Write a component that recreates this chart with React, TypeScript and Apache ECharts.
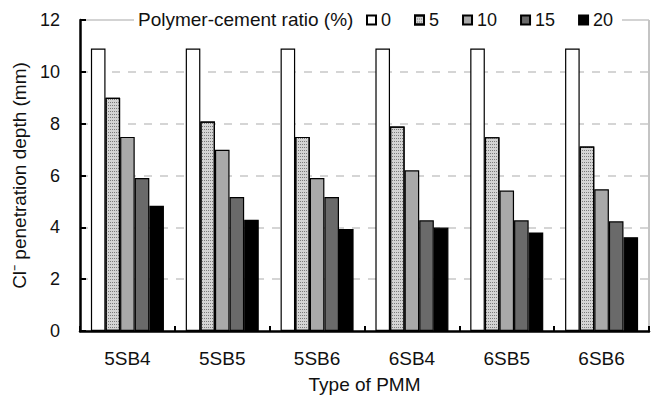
import React, { useEffect, useRef } from "react";
import * as echarts from "echarts";

const categories = ["5SB4", "5SB5", "5SB6", "6SB4", "6SB5", "6SB6"];
const seriesNames = ["0", "5", "10", "15", "20"];
const ratio0 = [10.9, 10.9, 10.9, 10.9, 10.9, 10.9];
const ratio5 = [9.0, 8.08, 7.49, 7.89, 7.48, 7.12];
const ratio10 = [7.49, 6.99, 5.9, 6.2, 5.42, 5.47];
const ratio15 = [5.9, 5.17, 5.17, 4.27, 4.27, 4.23];
const ratio20 = [4.83, 4.29, 3.94, 3.99, 3.8, 3.62];
const yTicks = [0, 2, 4, 6, 8, 10, 12];

const FONT = "Liberation Sans, Arial, sans-serif";

export default function App() {
  const ref = useRef<HTMLDivElement>(null);
  useEffect(() => {
    if (!ref.current) return;
    const chart = echarts.init(ref.current, undefined, { renderer: "svg" });
    const values = [ratio0, ratio5, ratio10, ratio15, ratio20];
    const colors = ["#ffffff", "#d4d4d4", "#a9a9a9", "#6a6a6a", "#000000"];
    const series = seriesNames.map((name, i) => ({
      name,
      type: "bar",
      data: values[i],
      barGap: "0%",
      barCategoryGap: "23%",
      itemStyle: {
        color: colors[i],
        borderColor: "#000",
        borderWidth: 1.2,
        ...(i === 1
          ? {
              decal: {
                symbol: "rect",
                symbolSize: 1,
                dashArrayX: [1, 1],
                dashArrayY: [1, 2],
                color: "#7a7a7a",
              },
            }
          : {}),
      },
    }));
    chart.setOption({
      animation: false,
      backgroundColor: "#fff",
      textStyle: { fontFamily: FONT },
      grid: { left: 80, right: 9, top: 20, bottom: 66, containLabel: false },
      legend: {
        data: seriesNames,
        left: 366,
        top: 11,
        icon: "rect",
        itemWidth: 9,
        itemHeight: 9,
        itemGap: 23,
        padding: 0,
        textStyle: { fontSize: 18, color: "#111", fontFamily: FONT },
      },
      graphic: [
        {
          type: "text",
          left: 138,
          top: 10,
          style: {
            text: "Polymer-cement ratio (%)",
            fontSize: 19,
            fontFamily: FONT,
            fill: "#111",
          },
        },
        {
          type: "line",
          shape: { x1: 80, y1: 20, x2: 134, y2: 20 },
          style: { stroke: "#c4c4c4", lineWidth: 1.5 },
        },
        {
          type: "line",
          shape: { x1: 622, y1: 20, x2: 649, y2: 20 },
          style: { stroke: "#c4c4c4", lineWidth: 1.5 },
        },
        {
          type: "line",
          shape: { x1: 649, y1: 20, x2: 649, y2: 333 },
          style: { stroke: "#c4c4c4", lineWidth: 2 },
        },
      ],
      xAxis: {
        type: "category",
        data: categories,
        name: "Type of PMM",
        nameLocation: "middle",
        nameGap: 44,
        nameTextStyle: { fontSize: 19, color: "#111", fontFamily: FONT },
        axisLine: { lineStyle: { color: "#000", width: 2.5 } },
        axisTick: { show: true, inside: true, length: 5, lineStyle: { color: "#000", width: 2 } },
        axisLabel: { fontSize: 19, color: "#111", margin: 18, fontFamily: FONT },
      },
      yAxis: {
        type: "value",
        min: yTicks[0],
        max: yTicks[yTicks.length - 1],
        interval: 2,
        name: "Cl\u207B penetration depth (mm)",
        nameLocation: "middle",
        nameRotate: 90,
        nameGap: 47,
        nameTextStyle: { fontSize: 19, color: "#111", fontFamily: FONT },
        axisLine: { show: true, lineStyle: { color: "#000", width: 2.5 } },
        axisTick: { show: true, inside: true, length: 6, lineStyle: { color: "#000", width: 2 } },
        axisLabel: { fontSize: 18, color: "#111", margin: 20, fontFamily: FONT },
        splitLine: {
          show: true,
          showMinLine: false,
          showMaxLine: false,
          lineStyle: { color: "#c8c8c8", width: 1.5, type: [8, 8] },
        },
      },
      series,
    });
    return () => chart.dispose();
  }, []);
  return <div ref={ref} style={{ width: 658, height: 399, position: "absolute", left: 0, top: 0 }} />;
}
